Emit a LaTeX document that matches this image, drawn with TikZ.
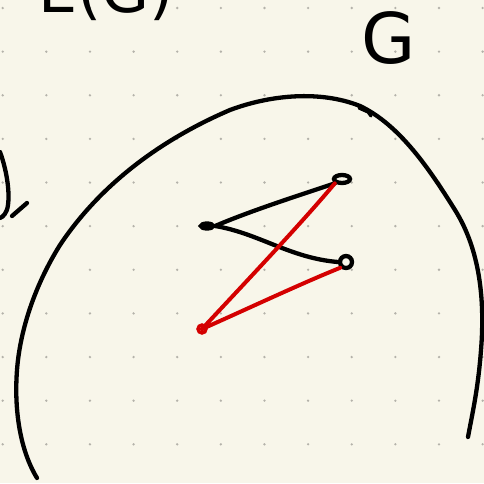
\documentclass[tikz,border=0pt]{standalone}
\usepackage{fontspec}
\usetikzlibrary{shapes.geometric}
\newfontfamily\handfont{DejaVu Sans}
\definecolor{paper}{HTML}{F8F6EA}
\definecolor{griddot}{HTML}{B4B2AA}
\definecolor{inkred}{HTML}{D40000}
\tikzset{
  ink/.style={line width=4.3pt, line cap=round, line join=round, black},
  redink/.style={line width=4pt, line cap=round, line join=round, inkred},
  vtx/.style={draw, line width=4.3pt, inner sep=0pt},
  hand/.style={font=\handfont\fontsize{62}{62}\selectfont, inner sep=0pt}
}
\begin{document}
\begin{tikzpicture}[x=1pt,y=-1pt]
\useasboundingbox (0,0) rectangle (484,483);
\fill[paper] (0,0) rectangle (484,483);
% dot grid
\foreach \i in {0,...,11}{
  \foreach \j in {0,...,10}{
    \fill[griddot] ({2.7+43.63*\i},{8+43.63*\j}) circle (1.3pt);
  }
}
% partial labels
\node[hand, anchor=base west] (eg) at (38,12) {E(G)};
\node[hand, anchor=center, font=\handfont\fontsize{70}{70}\selectfont] (g) at (389,38) {G};
% partial stroke at left edge
\draw[ink] (0,152) .. controls (6,168) and (10,190) .. (8,205) .. controls (7,213) and (3,217) .. (0,218);
\draw[ink] (12,216) -- (27,203);
% big curve
\draw[ink] (37,478) .. controls (20,450) and (14,410) .. (17,370)
  .. controls (20,330) and (35,285) .. (60,245)
  .. controls (100,185) and (160,140) .. (230,110)
  .. controls (270,95) and (320,90) .. (360,106)
  .. controls (400,125) and (430,170) .. (455,210)
  .. controls (480,250) and (485,300) .. (481,350)
  .. controls (478,390) and (472,415) .. (468,437);
\draw[ink, line width=3.2pt] (359,108) -- (368,112) -- (371,116);
% vertices
\node[vtx, ellipse, fill=black, minimum width=12pt, minimum height=5pt] (a) at (207,226) {};
\node[vtx, ellipse, minimum width=16pt, minimum height=8pt] (b) at (342,179) {};
\node[vtx, circle, minimum size=12pt] (c) at (346,262) {};
\node[vtx, circle, draw=inkred, line width=3.4pt, minimum size=8pt] (d) at (202,329) {};
% black edges
\draw[ink] (a.east) .. controls (250,211) and (300,195) .. (b.south west);
\draw[ink] (a.east) .. controls (258,233) and (290,258) .. (c.west);
% red edges
\draw[redink] (d.center) .. controls (240,288) and (300,225) .. (b.south west);
\draw[redink] (d.center) .. controls (245,310) and (300,284) .. (c.south west);
\end{tikzpicture}
\end{document}
